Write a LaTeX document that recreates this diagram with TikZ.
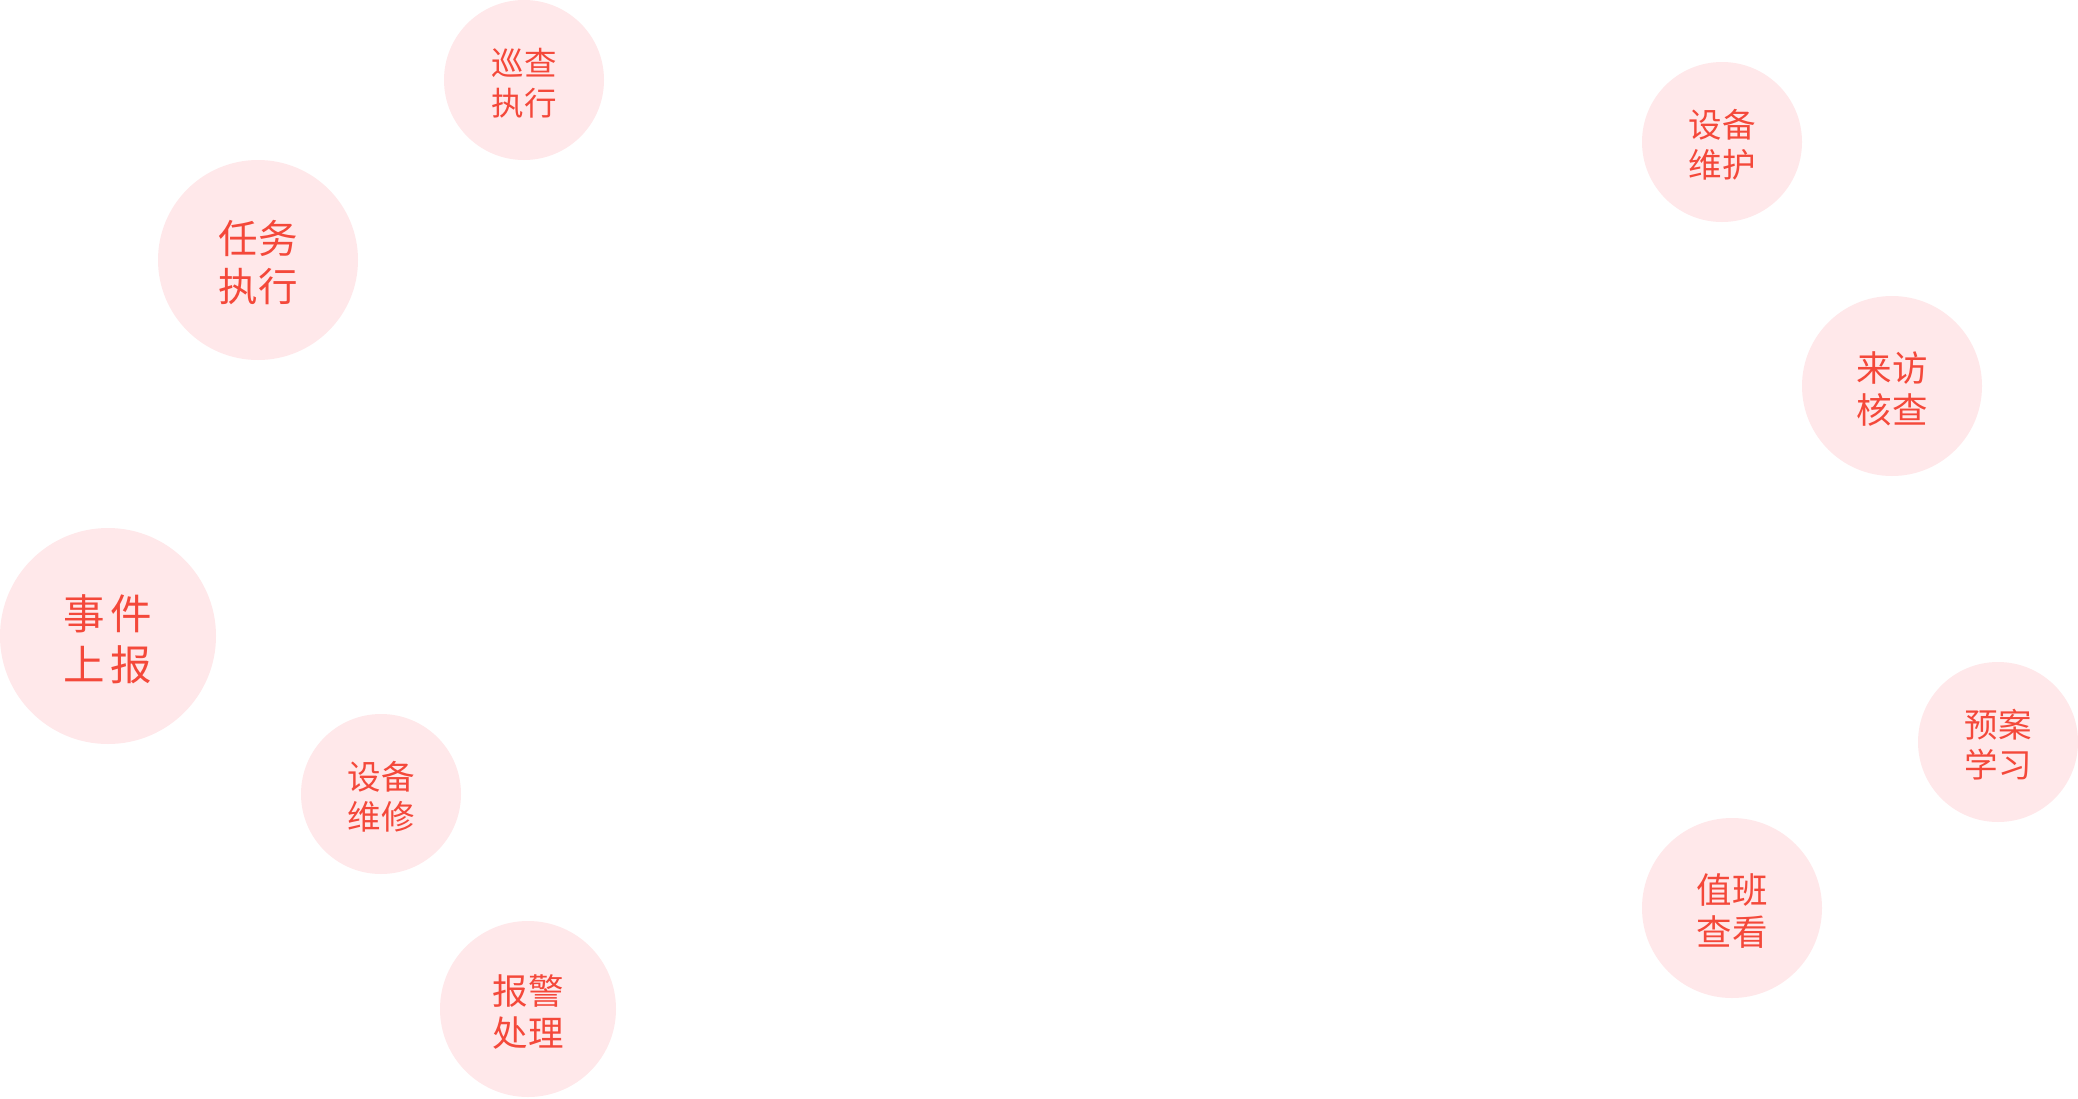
\documentclass[tikz,border=0pt]{standalone}
\usepackage{fontspec}
\newfontfamily\cjk{Noto Sans CJK SC}
\definecolor{bubblefill}{RGB}{255,232,234}
\definecolor{bubbletext}{RGB}{244,72,58}
\tikzset{
  bubble/.style={circle, fill=bubblefill, inner sep=0pt, minimum size=#1},
  btext/.style={text=bubbletext, align=center, inner sep=0pt, yshift=-3pt}
}
\begin{document}
\begin{tikzpicture}[x=1pt,y=-1pt]
\path[use as bounding box, fill=white] (0,0) rectangle (2078,1098);
\node[bubble=160pt] (xuncha) at (524,80) {};
\node[btext, font=\cjk\fontsize{32.5}{40}\selectfont] (xuncha-t) at (xuncha.center) {巡查\\执行};
\node[bubble=200pt] (renwu) at (258,260) {};
\node[btext, font=\cjk\fontsize{39.5}{48}\selectfont] (renwu-t) at (renwu.center) {任务\\执行};
\node[bubble=216pt] (shijian) at (108,636) {};
\node[btext, font=\cjk\fontsize{41.5}{51}\selectfont] (shijian-t) at (shijian.center) {事\hspace{6pt}件\\上\hspace{6pt}报};
\node[bubble=160pt] (weixiu) at (381,794) {};
\node[btext, font=\cjk\fontsize{33.5}{40}\selectfont] (weixiu-t) at (weixiu.center) {设备\\维修};
\node[bubble=176pt] (baojing) at (528,1009) {};
\node[btext, font=\cjk\fontsize{35.5}{42}\selectfont] (baojing-t) at (baojing.center) {报警\\处理};
\node[bubble=160pt] (weihu) at (1722,142) {};
\node[btext, font=\cjk\fontsize{33.5}{40}\selectfont] (weihu-t) at (weihu.center) {设备\\维护};
\node[bubble=180pt] (laifang) at (1892,386) {};
\node[btext, font=\cjk\fontsize{35.5}{42}\selectfont] (laifang-t) at (laifang.center) {来访\\核查};
\node[bubble=160pt] (yuan) at (1998,742) {};
\node[btext, font=\cjk\fontsize{33.5}{40}\selectfont] (yuan-t) at (yuan.center) {预案\\学习};
\node[bubble=180pt] (zhiban) at (1732,908) {};
\node[btext, font=\cjk\fontsize{35.5}{42}\selectfont] (zhiban-t) at (zhiban.center) {值班\\查看};
\end{tikzpicture}
\end{document}
